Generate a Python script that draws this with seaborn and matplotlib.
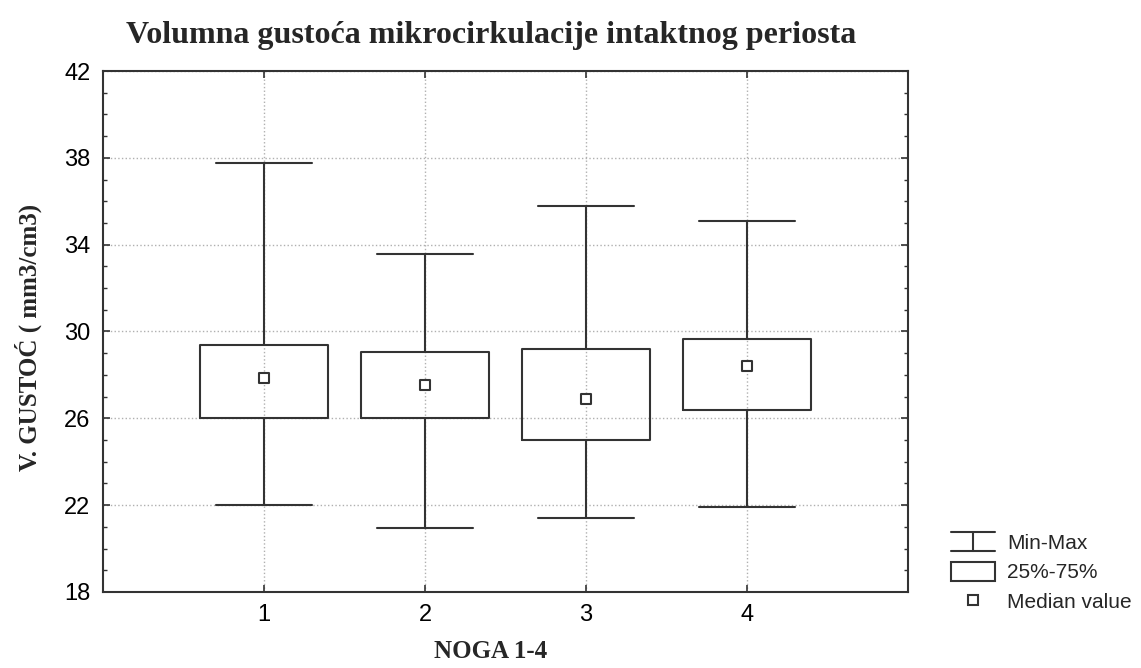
import pandas as pd
import matplotlib
matplotlib.use("Agg")
import matplotlib.pyplot as plt
import seaborn as sns
from matplotlib.legend_handler import HandlerBase
from matplotlib.lines import Line2D
from matplotlib.patches import Rectangle
from matplotlib.ticker import MultipleLocator

# box statistics (min, 25%, median, 75%, max)
noga = [1, 2, 3, 4]
minimum = [22.0, 20.95, 21.4, 21.9]
q25 = [26.0, 26.0, 25.0, 26.38]
median = [27.85, 27.53, 26.88, 28.4]
q75 = [29.37, 29.05, 29.19, 29.65]
maximum = [37.76, 33.57, 35.78, 35.09]
yticks = [18, 22, 26, 30, 34, 38, 42]

# five points per group -> quartiles land exactly on the values above
rows = []
for i, n in enumerate(noga):
    for v in (minimum[i], q25[i], median[i], q75[i], maximum[i]):
        rows.append({"noga": n, "gustoca": v})
df = pd.DataFrame(rows)

sns.set_style("ticks")
plt.rcParams["font.family"] = ["Liberation Sans", "DejaVu Sans"]

line_col = "#333333"

fig = plt.figure(figsize=(11.41, 6.68), dpi=100)
ax = fig.add_axes([0.0903, 0.1138, 0.7055, 0.7799])

sns.boxplot(data=df, x="noga", y="gustoca", native_scale=True, whis=(0, 100),
            width=0.8, fill=False, color=line_col, linewidth=1.5,
            medianprops={"linewidth": 0}, capwidths=0.6, ax=ax)
sns.scatterplot(x=noga, y=median, marker="s", s=55, facecolor="white",
                edgecolor=line_col, linewidth=1.5, zorder=5, ax=ax)

ax.set_xlim(0, 5)
ax.set_ylim(18, 42)
ax.set_xticks(noga)
ax.set_xticklabels([str(n) for n in noga])
ax.set_yticks(yticks)
ax.yaxis.set_minor_locator(MultipleLocator(1))
ax.tick_params(which="both", direction="in", top=True, right=True, labelsize=17,
               colors=line_col, labelcolor="black")
ax.tick_params(which="major", length=5, width=1.2, pad=9)
ax.tick_params(which="minor", length=3, width=1, top=False)
ax.grid(True, linestyle=":", color="#b0b0b0", linewidth=1)
for s in ax.spines.values():
    s.set_color(line_col)
    s.set_linewidth(1.5)

ax.set_xlabel("")
ax.set_ylabel("")
fig.text(0.43, 0.947, "Volumna gustoća mikrocirkulacije intaktnog periosta",
         family="Liberation Serif", weight="bold", fontsize=23, ha="center", va="center")
fig.text(0.43, 0.024, "NOGA 1-4", family="Liberation Serif", weight="bold",
         fontsize=18, ha="center", va="center")
fig.text(0.025, 0.495, "V. GUSTOĆ ( mm3/cm3)", family="Liberation Serif", weight="bold",
         fontsize=18, ha="center", va="center", rotation=90)


class MinMaxHandler(HandlerBase):
    def create_artists(self, legend, orig_handle, xdescent, ydescent, width, height, fontsize, trans):
        x0, x1 = -xdescent, -xdescent + width
        y0, y1 = -ydescent, -ydescent + height
        xm = (x0 + x1) / 2
        kw = dict(color=line_col, linewidth=1.5, transform=trans)
        return [Line2D([x0, x1], [y1, y1], **kw), Line2D([x0, x1], [y0, y0], **kw),
                Line2D([xm, xm], [y0, y1], **kw)]


h_minmax = Line2D([], [])
h_box = Rectangle((0, 0), 1, 1, facecolor="white", edgecolor=line_col, linewidth=1.5)
h_med = Line2D([], [], marker="s", markersize=7, markerfacecolor="white",
               markeredgecolor=line_col, markeredgewidth=1.5, linestyle="none")
fig.legend([h_minmax, h_box, h_med], ["Min-Max", "25%-75%", "Median value"],
           handler_map={h_minmax: MinMaxHandler()}, loc="upper left",
           bbox_to_anchor=(0.826, 0.216), frameon=False, fontsize=15,
           handlelength=2.1, handleheight=1.0, handletextpad=0.6, labelspacing=0.45,
           borderaxespad=0)

fig.savefig("out.png", dpi=100)
